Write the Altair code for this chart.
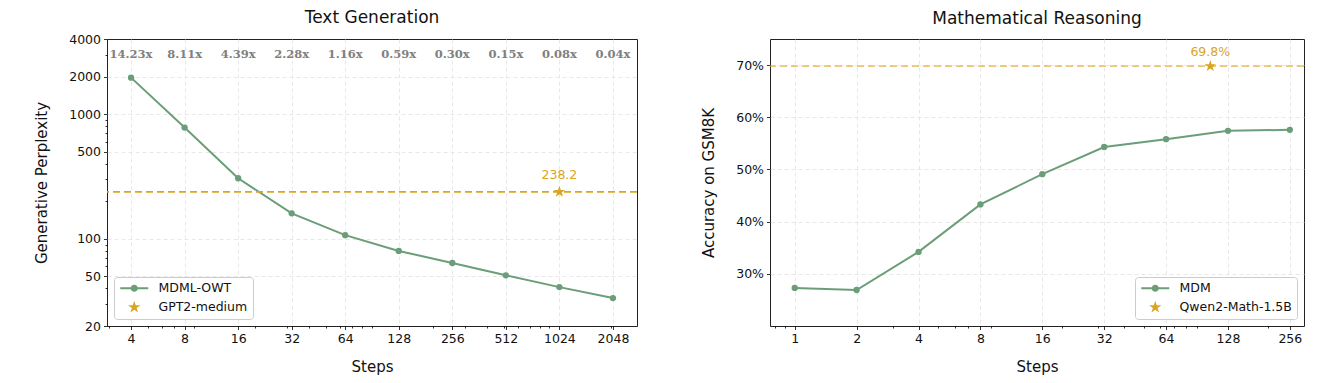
import altair as alt
import pandas as pd
import math

# ---------------- data ----------------
steps_tg = [4, 8, 16, 32, 64, 128, 256, 512, 1024, 2048]
ppl_tg = [1960, 780, 306, 160, 107, 80, 64, 51, 41, 33.5]
speedup_labels = ["14.23x", "8.11x", "4.39x", "2.28x", "1.16x",
                  "0.59x", "0.30x", "0.15x", "0.08x", "0.04x"]
speedup_y = 3000
gpt2_ppl = 238.2
gpt2_step = 1024
tg_series = ["MDML-OWT", "GPT2-medium"]

steps_mr = [1, 2, 4, 8, 16, 32, 64, 128, 256]
acc_mr = [27.3, 26.9, 34.2, 43.3, 49.1, 54.3, 55.8, 57.4, 57.6]
qwen_acc = 69.8
qwen_step = 105
mr_series = ["MDM", "Qwen2-Math-1.5B"]

tg_y_ticks = [20, 50, 100, 500, 1000, 2000, 4000]
tg_y_minor = [30, 40, 60, 70, 80, 90, 200, 300, 400, 600, 700, 800, 900, 3000]
tg_x_minor = [3, 5, 6, 7, 9, 20, 30, 40, 50, 60, 70, 80, 90,
              200, 300, 400, 500, 600, 700, 800, 900, 2000]
mr_y_ticks = [30, 40, 50, 60, 70]
mr_x_minor = [0.8, 0.9, 3, 5, 6, 7, 9, 20, 30, 40, 50, 60, 70, 80, 90, 200]

# ---------------- style ----------------
FONT = "DejaVu Sans"
GREEN = "#6b9e78"
GOLD = "#daa520"
GRID = "#e2e2e2"


def star_path(R, ratio=0.382):
    pts = []
    for i in range(10):
        r = R if i % 2 == 0 else R * ratio
        a = -math.pi / 2 + i * math.pi / 5
        pts.append(f"{r*math.cos(a):.3f},{r*math.sin(a):.3f}")
    return "M" + "L".join(pts) + "Z"


STAR = star_path(1.0)
STAR_LEG = star_path(1.3)
LINE_DOT = ("M-2.8,-0.2L2.8,-0.2L2.8,0.2L-2.8,0.2Z "
            "M-0.72,0A0.72,0.72 0 1,1 0.72,0A0.72,0.72 0 1,1 -0.72,0Z")


def js_list(vals):
    return "[" + ",".join(str(v) for v in vals) + "]"


def make_axis(majors, minors, title, domain, suffix="", title_pad=8):
    test = f"indexof({js_list(majors)}, datum.value) >= 0"
    inner = [v for v in majors if domain[0] < v < domain[1]]
    gtest = f"indexof({js_list(inner)}, datum.value) >= 0"
    label = f"{test} ? format(datum.value, 'd') + '{suffix}' : ''"
    return alt.Axis(
        values=sorted(majors + minors), title=title, labelExpr=label,
        labelOverlap=False, labelFlush=False,
        grid=True, gridDash=[4, 3], gridColor=GRID, gridWidth=0.8,
        gridOpacity={"condition": {"test": gtest, "value": 1}, "value": 0},
        tickSize={"condition": {"test": test, "value": 3.5}, "value": 2},
        tickColor="#000", tickWidth=0.8, domain=False,
        labelFont=FONT, labelFontSize=12.5, labelColor="#111",
        labelPadding=3, titleFont=FONT, titleFontSize=15,
        titleFontWeight="normal", titleColor="#111", titlePadding=title_pad)


def panel(steps, vals, xdomain, ydomain, ytype, yticks, ysuffix,
          xminor, yminor, ytitle, series, ref_val, ref_step, ref_label,
          ref_dy, rule_opacity, legend_orient, title, title_offset, width,
          ytitle_pad, speed=None):
    xs = alt.Scale(type="log", base=2, domain=xdomain, nice=False)
    if ytype == "log":
        ys = alt.Scale(type="log", domain=ydomain, nice=False)
    else:
        ys = alt.Scale(domain=ydomain, nice=False, zero=False)
    XA = make_axis(steps, xminor, "Steps", xdomain, title_pad=14)
    YA = make_axis(yticks, yminor, ytitle, ydomain, suffix=ysuffix,
                   title_pad=ytitle_pad)

    df = pd.DataFrame({"step": steps, "val": vals})
    ref = pd.DataFrame({"step": [ref_step], "val": [ref_val],
                        "label": [ref_label]})

    X = alt.X("step:Q", scale=xs, axis=XA)
    Y = alt.Y("val:Q", scale=ys, axis=YA)

    line = alt.Chart(df).mark_line(color=GREEN, strokeWidth=2).encode(x=X, y=Y)
    pts = alt.Chart(df).mark_point(filled=True, shape="circle", size=40,
                                   color=GREEN, opacity=1,
                                   strokeWidth=0).encode(x=X, y=Y)
    rule = alt.Chart(ref).mark_rule(color=GOLD, strokeWidth=1.7,
                                    strokeDash=[7, 4],
                                    opacity=rule_opacity).encode(y=Y)
    star = alt.Chart(ref).mark_point(filled=True, shape=STAR, size=150,
                                     color=GOLD, opacity=1,
                                     strokeWidth=0).encode(x=X, y=Y)
    star_txt = alt.Chart(ref).mark_text(font=FONT, fontSize=12.5, color=GOLD,
                                        dy=ref_dy).encode(x=X, y=Y,
                                                          text="label:N")
    leg_df = pd.DataFrame({"series": series,
                           "step": [xdomain[0] / 2] * 2,
                           "val": [vals[-1]] * 2})
    legend_layer = alt.Chart(leg_df).mark_point(
        filled=True, opacity=1, clip=True, strokeWidth=0, size=100
    ).encode(
        x=X, y=Y,
        color=alt.Color("series:N",
                        scale=alt.Scale(domain=series, range=[GREEN, GOLD]),
                        legend=alt.Legend(
                            title=None, orient=legend_orient, offset=7,
                            labelFont=FONT, labelFontSize=12.5,
                            labelColor="#111", symbolSize=100,
                            symbolOffset=9, labelOffset=18,
                            symbolStrokeWidth=0, rowPadding=5,
                            padding=5, fillColor="white",
                            strokeColor="#cccccc", cornerRadius=3)),
        shape=alt.Shape("series:N",
                        scale=alt.Scale(domain=series,
                                        range=[LINE_DOT, STAR_LEG]),
                        legend=None),
    )
    layers = [line, pts, rule, star, star_txt, legend_layer]
    if speed is not None:
        sdf = pd.DataFrame({"step": steps, "val": [speedup_y] * len(steps),
                            "label": speed})
        layers.append(alt.Chart(sdf).mark_text(
            font="DejaVu Serif", fontWeight="bold", fontSize=11.5,
            color="#808080").encode(x=X, y=Y, text="label:N"))
    return alt.layer(*layers).properties(
        width=width, height=287,
        title=alt.TitleParams(title, font=FONT, fontSize=17,
                              fontWeight="normal", color="#111",
                              offset=title_offset, frame="group"))


left = panel(steps_tg, ppl_tg, [2.93, 2797], [20, 4000], "log", tg_y_ticks,
             "", tg_x_minor, tg_y_minor, "Generative Perplexity",
             tg_series, gpt2_ppl, gpt2_step, "238.2", -16.5, 1.0,
             "bottom-left", "Text Generation", 6, 530, 19,
             speed=speedup_labels)

right = panel(steps_mr, acc_mr, [0.758, 300], [20, 75], "linear", mr_y_ticks,
              "%", mr_x_minor, [], "Accuracy on GSM8K", mr_series, qwen_acc,
              qwen_step, "69.8%", -14.5, 0.6, "bottom-right",
              "Mathematical Reasoning", 11.5, 534, 19)

chart = alt.hconcat(left, right, spacing=62).resolve_scale(
    color="independent", shape="independent").properties(
    padding={"left": 26, "top": 0, "right": 5, "bottom": 5}
).configure_view(stroke="#222", strokeWidth=1)

chart.save("out.html", embed_options={"renderer": "svg", "actions": False})
